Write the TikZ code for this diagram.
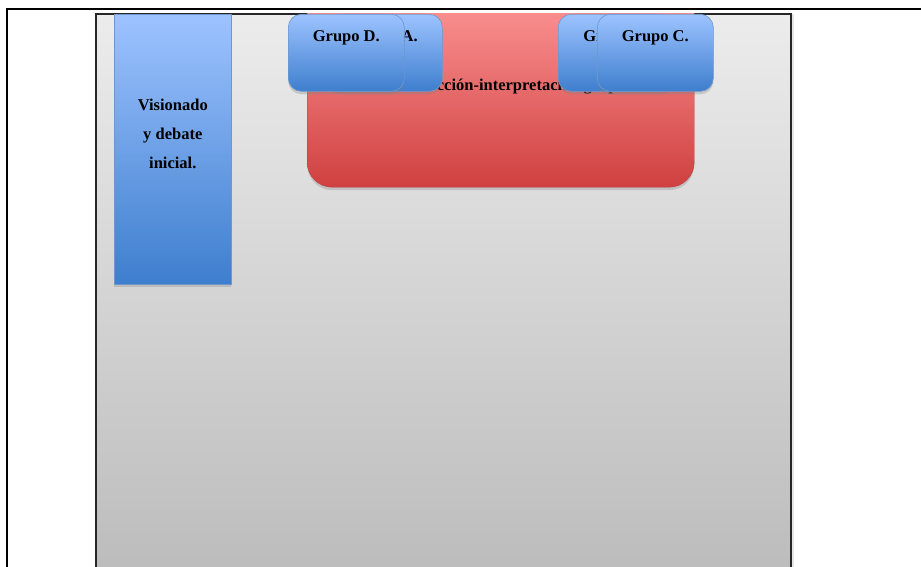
\documentclass[tikz,border=0pt]{standalone}
\usepackage{fontspec}
\setmainfont{Liberation Serif}
\usetikzlibrary{shadows}

\definecolor{bluetop}{RGB}{157,195,255}
\definecolor{bluebot}{RGB}{62,126,206}
\definecolor{blueline}{RGB}{74,126,192}
\definecolor{redtop}{RGB}{255,153,153}
\definecolor{redbot}{RGB}{208,64,64}
\definecolor{greytop}{RGB}{236,236,236}
\definecolor{greybot}{RGB}{188,188,188}

\tikzset{
  lbl/.style={font=\fontsize{16.5}{29}\selectfont\bfseries},
  panel/.style={draw=black!85, line width=1.6pt, top color=greytop, bottom color=greybot,
    inner sep=0pt, anchor=north west,
    drop shadow={opacity=0.2, shadow xshift=3pt, shadow yshift=0pt}},
  phase/.style={draw=blueline!80, line width=0.6pt, top color=bluetop, bottom color=bluebot,
    inner sep=0pt, anchor=north west,
    drop shadow={opacity=0.3, shadow xshift=0pt, shadow yshift=-3pt}},
  stage/.style={draw=redbot!90!black, line width=0.4pt, top color=redtop, bottom color=redbot,
    rounded corners=25pt, inner sep=0pt, anchor=north west,
    drop shadow={opacity=0.3, shadow xshift=0pt, shadow yshift=-3pt}},
  group/.style={phase, lbl, rounded corners=13pt, minimum width=116pt,
    text height=27pt, text depth=50pt},
}

\begin{document}
\begin{tikzpicture}[x=1pt,y=-1pt]
    \useasboundingbox (0,0) rectangle (921,567);
    \coordinate (tl) at (6.5,9);
    \coordinate (tr) at (921,9);
    \coordinate (bl) at (6.5,567);
    \draw[line width=2pt] (tr) -- (tl) -- (bl);
    \node[panel, minimum width=695pt, minimum height=560pt] at (95,13) (board) {};
    \node[phase, minimum width=117pt, minimum height=270pt] at (114,14) (vis) {};
    \node[lbl, align=center, anchor=north] at ([yshift=-81.5pt]vis.north) (vistxt) {Visionado\\y debate\\inicial.};
    \begin{scope}
        \clip (95,14) rectangle (800,567);
        \node[stage, minimum width=387pt, minimum height=202pt] at (307,-15) (prod) {};
    \end{scope}
    \node[lbl, anchor=base west, inner sep=0pt] at (393,90.5) (prodtxt) {Producción-interpretación grupal.};
    \node[group] at (326,14) (grpA) {Grupo A.};
    \node[group] at (288,14) (grpD) {Grupo D.};
    \node[group] at (558,14) (grpB) {Grupo B.};
    \node[group] at (597,14) (grpC) {Grupo C.};
\end{tikzpicture}
\end{document}
